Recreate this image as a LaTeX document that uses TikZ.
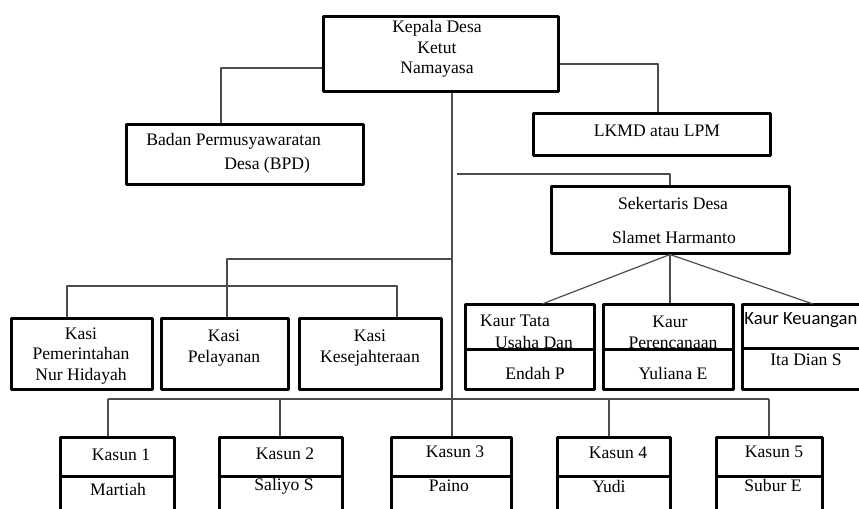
\documentclass[tikz,border=0pt]{standalone}
\usepackage{fontspec}
\setmainfont{Liberation Serif}
\newfontfamily\kaurfont{Carlito}
\usetikzlibrary{fit}

\tikzset{
  kotak/.style={draw,line width=1.5pt,inner sep=0pt},
  sekat/.style={line width=1.5pt},
  garis/.style={draw=black!70,line width=0.6pt},
  tulisan/.style={inner sep=0pt,align=center,font=\fontsize{8.8}{10.3}\selectfont}
}

\begin{document}
\begin{tikzpicture}[x=0.5pt,y=-0.5pt,line join=round]
\useasboundingbox (0,0) rectangle (859,509);
\clip (0,0) rectangle (859,509);
% kotak atas
\node[kotak,fit={(323,16)(558,91)}] (kades) {};
\node[kotak,fit={(126,124)(363,184)}] (bpd) {};
\node[kotak,fit={(533,113)(770,155)}] (lkmd) {};
\node[kotak,fit={(551,186)(789,253)}] (sekdes) {};
% kasi
\node[kotak,fit={(11,318)(152,389)}] (kasi1) {};
\node[kotak,fit={(161,318)(288,389)}] (kasi2) {};
\node[kotak,fit={(299,318)(441,389)}] (kasi3) {};
% kaur
\node[kotak,fit={(465,304)(594,389)}] (kaur1) {};
\node[kotak,fit={(603,304)(733,389)}] (kaur2) {};
\node[kotak,fit={(742,304)(880,389)}] (kaur3) {};
% kasun
\node[kotak,fit={(60,437)(174,540)}] (kasun1) {};
\node[kotak,fit={(219,437)(342,540)}] (kasun2) {};
\node[kotak,fit={(391,437)(511,540)}] (kasun3) {};
\node[kotak,fit={(557,437)(670,540)}] (kasun4) {};
\node[kotak,fit={(716,437)(822,540)}] (kasun5) {};

% garis penghubung
\coordinate (pusat) at (452,399);
\coordinate (tBPD) at (221,68);
\coordinate (tLKMD) at (658,64);
\draw[garis] (kades.west |- tBPD) -- (tBPD) -- (tBPD |- bpd.north);
\draw[garis] (kades.east |- tLKMD) -- (tLKMD) -- (tLKMD |- lkmd.north);
\draw[garis] (kades.south -| pusat) -- (pusat |- kasun3.north);
\coordinate (aSek) at (457,174);
\coordinate (tSek) at (670,174);
\draw[garis] (aSek) -- (tSek) -- (tSek |- sekdes.north);
\coordinate (tKasi) at (227,259);
\coordinate (bKasi1) at (67,286);
\coordinate (bKasi3) at (397,286);
\draw[garis] (pusat |- tKasi) -- (tKasi) -- (tKasi |- kasi2.north);
\draw[garis] (bKasi1 |- kasi1.north) -- (bKasi1) -- (bKasi3) -- (bKasi3 |- kasi3.north);
\coordinate (uKaur1) at (542,304);
\coordinate (uKaur3) at (813,304);
\draw[garis] (uKaur1) -- (sekdes.south) -- (uKaur3);
\draw[garis] (sekdes.south) -- (sekdes.south |- kaur2.north);
\coordinate (kiri) at (108,399);
\coordinate (kanan) at (769,399);
\draw[garis] (kiri) -- (kanan);
\foreach \k/\x in {1/108,2/280,4/609,5/769}
  \draw[garis] (\x,399) -- (\x,399 |- kasun\k.north);

% tulisan
\node[tulisan] (tKades) at (437,49) {Kepala Desa\\Ketut\\Namayasa};
\node[tulisan,anchor=west] (tBpd1) at (146,141) {Badan Permusyawaratan};
\node[tulisan,anchor=west] (tBpd2) at (224,165) {Desa (BPD)};
\node[tulisan] (tLkmd) at (657,131) {LKMD atau LPM};
\node[tulisan] (tSek1) at (673,203) {Sekertaris Desa};
\node[tulisan] (tSek2) at (674,237) {Slamet Harmanto};
\node[tulisan] (tKasi1) at (81,356) {Kasi\\Pemerintahan\\Nur Hidayah};
\node[tulisan] (tKasi2) at (224,348) {Kasi\\Pelayanan};
\node[tulisan] (tKasi3) at (370,348) {Kasi\\Kesejahteraan};
\node[tulisan] (tKaur1a) at (515,321) {Kaur Tata};
\node[tulisan] (tKaur1b) at (534,342) {Usaha Dan};
\node[tulisan] (tKaur1c) at (535,373) {Endah P};
\node[tulisan] (tKaur2a) at (670,322) {Kaur};
\node[tulisan] (tKaur2b) at (673,343) {Perencanaan};
\node[tulisan] (tKaur2c) at (673,373) {Yuliana E};
\node[inner sep=0pt,anchor=west,font=\kaurfont\fontsize{9.3}{11}\selectfont] (tKaur3a) at (744,320) {Kaur Keuangan};
\node[tulisan] (tKaur3b) at (806,360) {Ita Dian S};
\node[tulisan] (tKasun1a) at (121,455) {Kasun 1};
\node[tulisan] (tKasun1b) at (118,489) {Martiah};
\node[tulisan] (tKasun2a) at (285,454) {Kasun 2};
\node[tulisan] (tKasun2b) at (284,486) {Saliyo S};
\node[tulisan] (tKasun3a) at (455,452) {Kasun 3};
\node[tulisan] (tKasun3b) at (449,486) {Paino};
\node[tulisan] (tKasun4a) at (618,453) {Kasun 4};
\node[tulisan] (tKasun4b) at (609,486) {Yudi};
\node[tulisan] (tKasun5a) at (774,452) {Kasun 5};
\node[tulisan] (tKasun5b) at (773,485) {Subur E};

% sekat kaur dan kasun
\draw[sekat] (kaur1.west |- 0,349) -- (kaur1.east |- 0,349);
\draw[sekat] (kaur2.west |- 0,349) -- (kaur2.east |- 0,349);
\draw[sekat] (kaur3.west |- 0,348) -- (kaur3.east |- 0,348);
\foreach \k in {1,...,5}
  \draw[sekat] (kasun\k.west |- 0,476) -- (kasun\k.east |- 0,476);
\end{tikzpicture}
\end{document}
